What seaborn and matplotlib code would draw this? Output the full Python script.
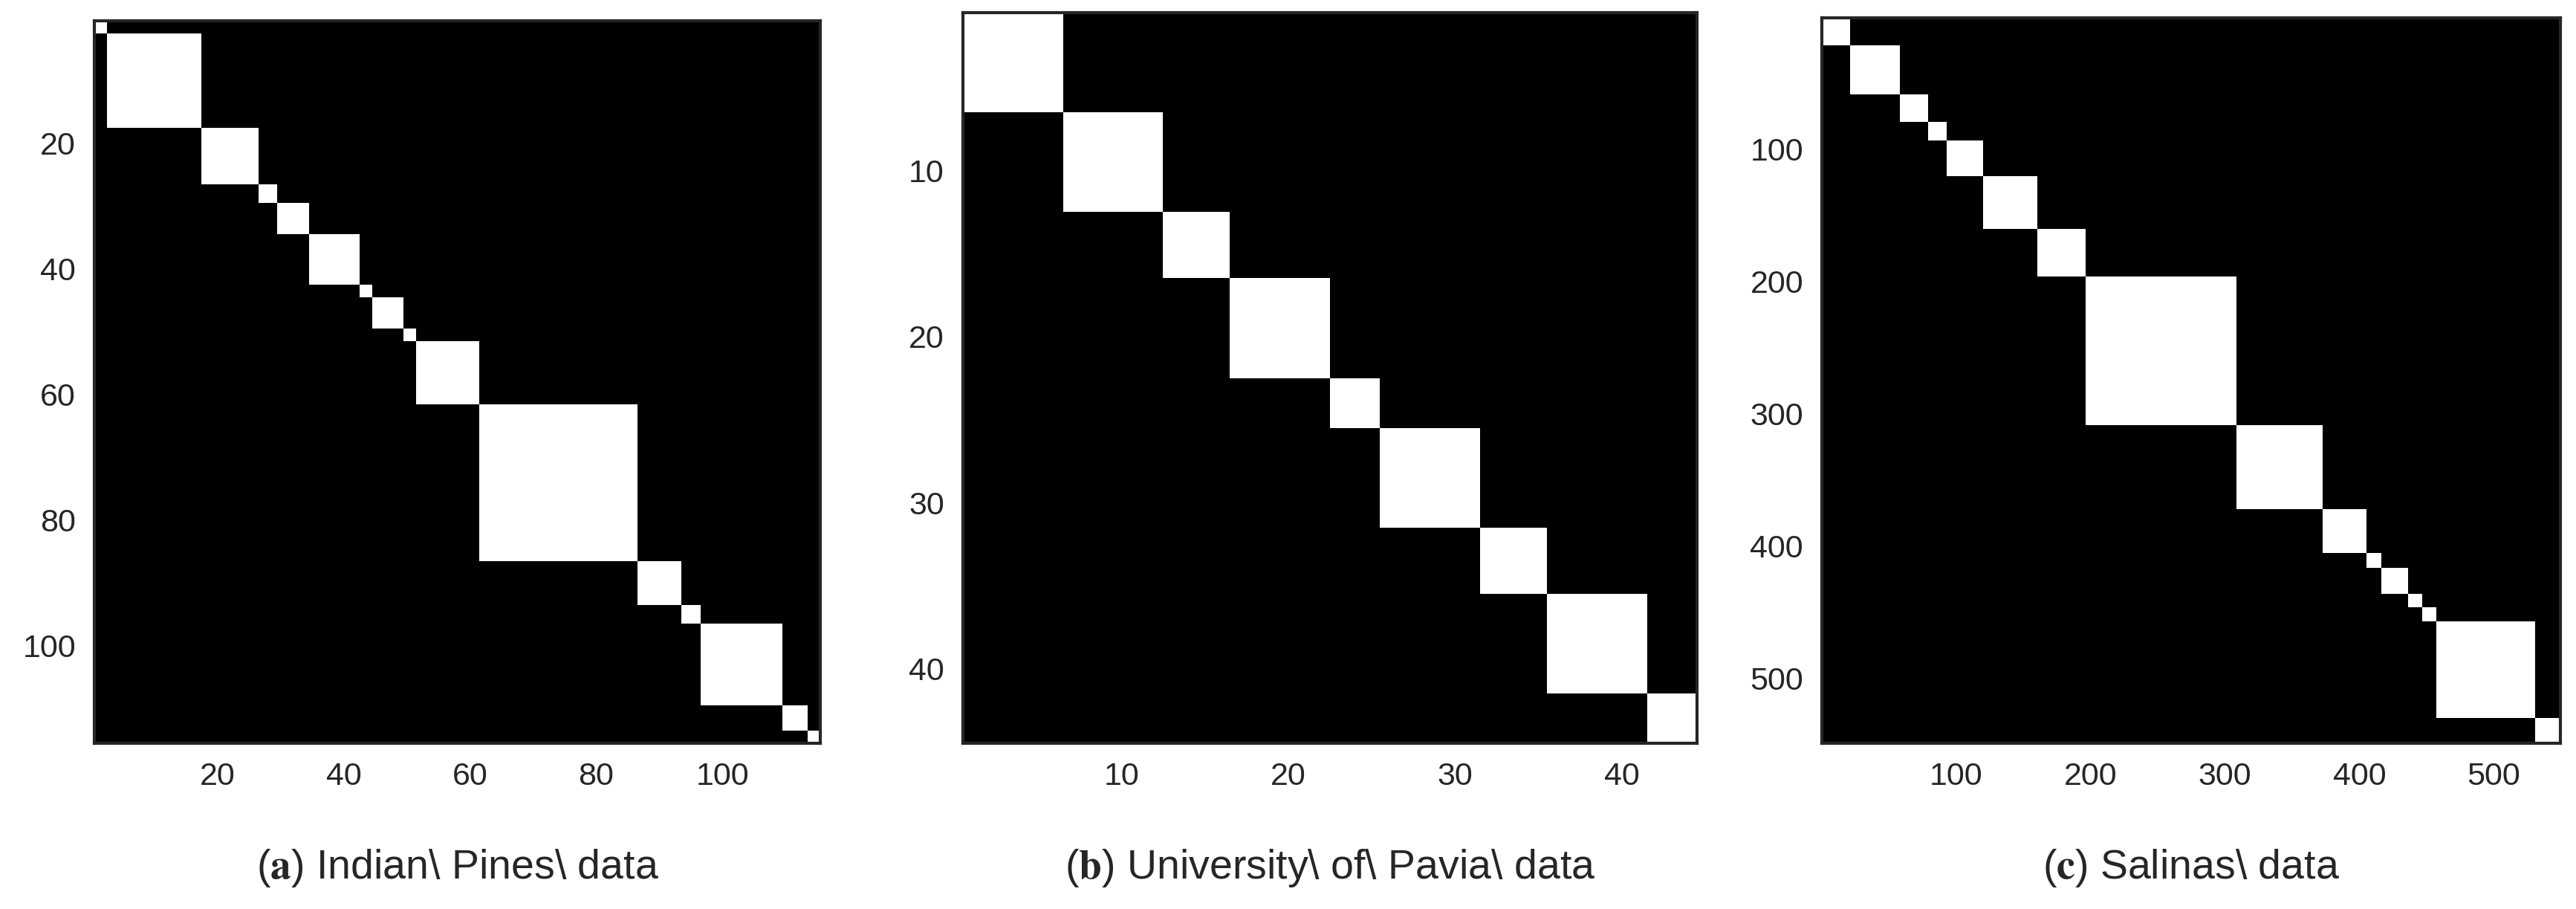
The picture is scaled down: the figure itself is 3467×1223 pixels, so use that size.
import numpy as np
import matplotlib
matplotlib.use("Agg")
import matplotlib.pyplot as plt
import seaborn as sns

sns.set_theme(style="white")
plt.rcParams['font.family'] = ['Liberation Sans', 'DejaVu Sans']
plt.rcParams['mathtext.fontset'] = 'stix'

# block sizes (number of bands per group)
indian_blocks = [2, 15, 9, 3, 5, 8, 2, 5, 2, 10, 25, 7, 3, 13, 4, 2]
pavia_blocks = [6, 6, 4, 6, 3, 6, 4, 6, 3]
salinas_blocks = [21, 37, 21, 14, 27, 40, 36, 112, 64, 33, 11, 20, 10, 11, 73, 19]

indian_ticks = [20, 40, 60, 80, 100]
pavia_ticks = [10, 20, 30, 40]
salinas_ticks = [100, 200, 300, 400, 500]

captions = [("a", "Indian Pines data"), ("b", "University of Pavia data"), ("c", "Salinas data")]


def block_matrix(sizes):
    labels = np.repeat(np.arange(len(sizes)), sizes)
    return (labels[:, None] == labels[None, :]).astype(float)


W, H = 3467, 1223
fig = plt.figure(figsize=(W / 100, H / 100), dpi=100)
boxes = [(127, 28, 1104, 1000), (1296, 17, 2284, 1000), (2452, 24, 3446, 1000)]
data = [(indian_blocks, indian_ticks), (pavia_blocks, pavia_ticks), (salinas_blocks, salinas_ticks)]

for (x0, y0, x1, y1), (blocks, ticks), (letter, name) in zip(boxes, data, captions):
    ax = fig.add_axes([x0 / W, 1 - y1 / H, (x1 - x0) / W, (y1 - y0) / H])
    M = block_matrix(blocks)
    sns.heatmap(M, ax=ax, cmap="gray", vmin=0, vmax=1, cbar=False, square=False,
                xticklabels=False, yticklabels=False)
    pos = [t - 0.5 for t in ticks]
    ax.set_xticks(pos)
    ax.set_xticklabels([str(t) for t in ticks])
    ax.set_yticks(pos)
    ax.set_yticklabels([str(t) for t in ticks], rotation=0)
    ax.tick_params(direction="in", length=12, width=2.5, color="#262626",
                   labelsize=31, labelcolor="#262626", pad=18,
                   top=True, right=True, bottom=True, left=True)
    for s in ax.spines.values():
        s.set_visible(True)
        s.set_color("#262626")
        s.set_linewidth(3)
    ax.set_xlabel("")
    ax.set_ylabel("")
    cx = (x0 + x1) / 2 / W
    fig.text(cx, 1 - 1168 / H, r"($\mathbf{%s}$) %s" % (letter, name.replace(" ", r"\ ")),
             ha="center", va="center", fontsize=40)

fig.savefig("out.png", dpi=100)
